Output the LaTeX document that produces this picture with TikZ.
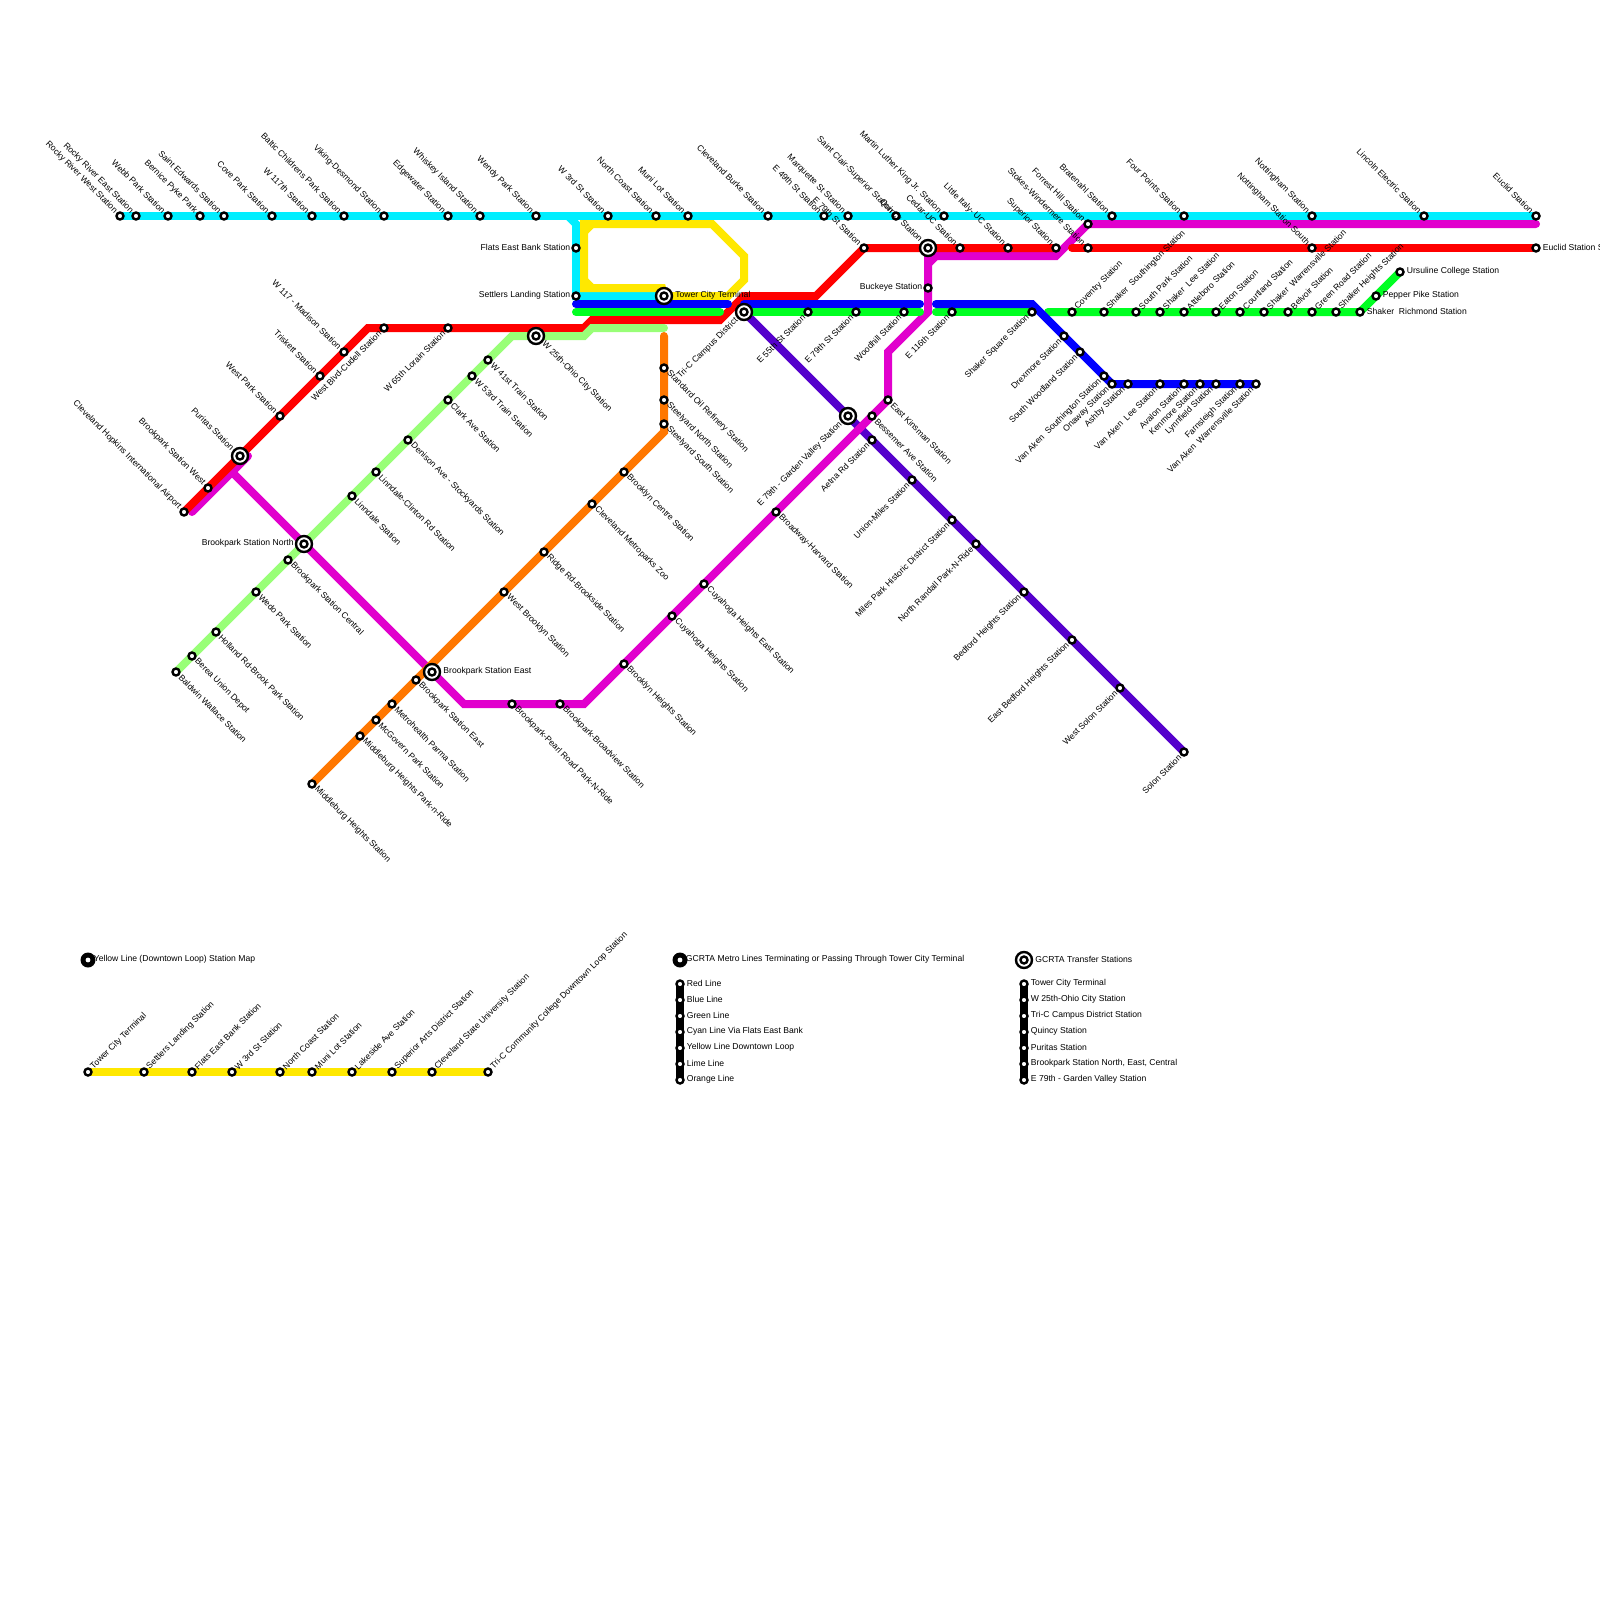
\documentclass[tikz,border=0pt]{standalone}
\usepackage{fontspec}
\setmainfont{Liberation Sans}
\usepackage{xcolor}
\usetikzlibrary{backgrounds}
\definecolor{cyanline}{HTML}{00EEFF}
\definecolor{yellowline}{HTML}{FFE800}
\definecolor{redline}{HTML}{FF0000}
\definecolor{blueline}{HTML}{0000FF}
\definecolor{greenline}{HTML}{00FF22}
\definecolor{limeline}{HTML}{99FF77}
\definecolor{orangeline}{HTML}{FF7700}
\definecolor{magentaline}{HTML}{E100CD}
\definecolor{indigoline}{HTML}{5500CC}

\begin{document}
\begin{tikzpicture}[x=1pt,y=-1pt,
    stn/.style={circle,draw=black,fill=white,line width=2.4pt,minimum size=7pt,inner sep=0pt},
    xfer/.style={circle,draw=black,fill=white,line width=2.4pt,minimum size=16pt,inner sep=0pt,
        path picture={\draw[line width=2.4pt] (path picture bounding box.center) circle (3.5pt);}},
    hub/.style={circle,fill=black,minimum size=15pt,inner sep=0pt,
        path picture={\fill[white] (path picture bounding box.center) circle (2.4pt);}},
    lab/.style={font=\fontsize{8.6}{9}\selectfont,inner sep=1pt,text=black},
    nwl/.style={label={[lab,rotate=-45,anchor=east]135:{#1}}},
    sel/.style={label={[lab,rotate=-45,anchor=west]-45:{#1}}},
    swl/.style={label={[lab,rotate=45,anchor=east]-135:{#1}}},
    nel/.style={label={[lab,rotate=45,anchor=west]45:{#1}}},
    wl/.style={label={[lab,yshift=0.4pt]180:{#1}}},
    el/.style={label={[lab,xshift=1pt,yshift=0.4pt]0:{#1}}},
    hubl/.style={label={[lab,xshift=-3pt,yshift=0.4pt]0:{#1}}},
    ln/.style={line width=8pt,line cap=round},
    cut/.style={line width=8pt,line cap=butt}]

\path[use as bounding box] (0,0) rectangle (1600,1600);

% Cyan
\node[stn,nwl={Rocky River West Station}] (rrwest) at (120,216) {};
\node[stn,nwl={Rocky River East Station}] (rreast) at (136,216) {};
\node[stn,nwl={Webb Park Station}] (webb) at (168,216) {};
\node[stn,nwl={Bernice Pyke Park}] (bernice) at (200,216) {};
\node[stn,nwl={Saint Edwards Station}] (edwards) at (224,216) {};
\node[stn,nwl={Cove Park Station}] (cove) at (272,216) {};
\node[stn,nwl={W 117th Station}] (w117) at (312,216) {};
\node[stn,nwl={Baltic Childrens Park Station}] (baltic) at (344,216) {};
\node[stn,nwl={Viking-Desmond Station}] (viking) at (384,216) {};
\node[stn,nwl={Edgewater Station}] (edgewater) at (448,216) {};
\node[stn,nwl={Whiskey Island Station}] (whiskey) at (480,216) {};
\node[stn,nwl={Wendy Park Station}] (wendy) at (536,216) {};
\node[stn,nwl={W 3rd St Station}] (w3rd) at (608,216) {};
\node[stn,nwl={North Coast Station}] (ncoast) at (656,216) {};
\node[stn,nwl={Muni Lot Station}] (muni) at (688,216) {};
\node[stn,nwl={Cleveland Burke Station}] (burke) at (768,216) {};
\node[stn,nwl={E 49th St Station}] (e49) at (824,216) {};
\node[stn,nwl={Marquette St Station}] (marquette) at (848,216) {};
\node[stn,nwl={Saint Clair-Superior Station}] (stclair) at (896,216) {};
\node[stn,nwl={Martin Luther King Jr. Station}] (mlk) at (944,216) {};
\node[stn,nwl={Bratenahl Station}] (bratenahl) at (1112,216) {};
\node[stn,nwl={Four Points Station}] (fourpts) at (1184,216) {};
\node[stn,nwl={Nottingham Station}] (notts) at (1312,216) {};
\node[stn,nwl={Lincoln Electric Station}] (lincoln) at (1424,216) {};
\node[stn,nwl={Euclid Station}] (euclid) at (1536,216) {};
\node[stn,wl={Flats East Bank Station}] (flats) at (576,248) {};
\node[stn,wl={Settlers Landing Station}] (settlers) at (576,296) {};

% Red
\node[stn,nwl={Cleveland Hopkins International Airport}] (airport) at (184,512) {};
\node[stn,nwl={Brookpark Station West}] (bkwest) at (208,488) {};
\node[stn,nwl={West Park Station}] (wpark) at (280,416) {};
\node[stn,nwl={Triskett Station}] (triskett) at (320,376) {};
\node[stn,nwl={W 117 - Madison Station}] (madison) at (344,352) {};
\node[stn,swl={West Blvd-Cudell Station}] (cudell) at (384,328) {};
\node[stn,swl={W 65th Lorain Station}] (lorain) at (448,328) {};
\node[stn,nwl={E 79th St Station}] (e79red) at (864,248) {};
\node[stn,nwl={Cedar-UC Station}] (cedar) at (960,248) {};
\node[stn,nwl={Little Italy- UC Station}] (italy) at (1008,248) {};
\node[stn,nwl={Superior Station}] (superior) at (1056,248) {};
\node[stn,nwl={Stokes-Windermere Station}] (stokes) at (1088,248) {};
\node[stn,nwl={Nottingham Station South}] (nottsouth) at (1312,248) {};
\node[stn,el={Euclid Station S}] (euclidsouth) at (1536,248) {};

% Green
\node[stn,swl={E 55th St Station}] (e55) at (808,312) {};
\node[stn,swl={E 79th St Station}] (e79grn) at (856,312) {};
\node[stn,swl={Woodhill Station}] (woodhill) at (904,312) {};
\node[stn,swl={E 116th Station}] (e116) at (952,312) {};
\node[stn,swl={Shaker Square Station}] (square) at (1032,312) {};
\node[stn,nel={Coventry Station}] (coventry) at (1072,312) {};
\node[stn,nel={Shaker\ \ Southington Station}] (shsouth) at (1104,312) {};
\node[stn,nel={South Park Station}] (spark) at (1136,312) {};
\node[stn,nel={Shaker\ \ Lee Station}] (shlee) at (1160,312) {};
\node[stn,nel={Attleboro Station}] (attleboro) at (1184,312) {};
\node[stn,nel={Eaton Station}] (eaton) at (1216,312) {};
\node[stn,nel={Courtland Station}] (courtland) at (1240,312) {};
\node[stn,nel={Shaker\ \ Warrensville Station}] (shwarren) at (1264,312) {};
\node[stn,nel={Belvoir Station}] (belvoir) at (1288,312) {};
\node[stn,nel={Green Road Station}] (greenrd) at (1312,312) {};
\node[stn,nel={Shaker Heights Station}] (shheights) at (1336,312) {};
\node[stn,el={Shaker\ \ Richmond Station}] (shrich) at (1360,312) {};
\node[stn,el={Pepper Pike Station}] (pepper) at (1376,296) {};
\node[stn,el={Ursuline College Station}] (ursuline) at (1400,272) {};

% Blue
\node[stn,swl={Drexmore Station}] (drexmore) at (1064,336) {};
\node[stn,swl={South Woodland Station}] (swood) at (1080,352) {};
\node[stn,swl={Van Aken\ \ Southington Station}] (vasouth) at (1104,376) {};
\node[stn,swl={Onaway Station}] (onaway) at (1112,384) {};
\node[stn,swl={Ashby Station}] (ashby) at (1128,384) {};
\node[stn,swl={Van Aken\ \ Lee Station}] (valee) at (1160,384) {};
\node[stn,swl={Avalon Station}] (avalon) at (1184,384) {};
\node[stn,swl={Kenmore Station}] (kenmore) at (1200,384) {};
\node[stn,swl={Lynnfield Station}] (lynnfield) at (1216,384) {};
\node[stn,swl={Farnsleigh Station}] (farnsleigh) at (1240,384) {};
\node[stn,swl={Van Aken\ \ Warrensville Station}] (vawarren) at (1256,384) {};

% Lime
\node[stn,sel={W 41st Train Station}] (w41) at (488,360) {};
\node[stn,sel={W 53rd Train Station}] (w53) at (472,376) {};
\node[stn,sel={Clark Ave Station}] (clark) at (448,400) {};
\node[stn,sel={Denison Ave - Stockyards Station}] (denison) at (408,440) {};
\node[stn,sel={Linndale-Clinton Rd Station}] (clinton) at (376,472) {};
\node[stn,sel={Linndale Station}] (linndale) at (352,496) {};
\node[stn,sel={Brookpark Station Central}] (bkcentral) at (288,560) {};
\node[stn,sel={Wedo Park Station}] (wedo) at (256,592) {};
\node[stn,sel={Holland Rd-Brook Park Station}] (holland) at (216,632) {};
\node[stn,sel={Berea Union Depot}] (berea) at (192,656) {};
\node[stn,sel={Baldwin Wallace Station}] (baldwin) at (176,672) {};

% Orange
\node[stn,sel={Standard Oil Refinery Station}] (stdoil) at (664,368) {};
\node[stn,sel={Steelyard North Station}] (steelnorth) at (664,400) {};
\node[stn,sel={Steelyard South Station}] (steelsouth) at (664,424) {};
\node[stn,sel={Brooklyn Centre Station}] (bkcentre) at (624,472) {};
\node[stn,sel={Cleveland Metroparks Zoo}] (zoo) at (592,504) {};
\node[stn,sel={Ridge Rd-Brookside Station}] (ridge) at (544,552) {};
\node[stn,sel={West Brooklyn Station}] (wbrooklyn) at (504,592) {};
\node[stn,sel={Brookpark Station East}] (bkeastor) at (416,680) {};
\node[stn,sel={Metrohealth Parma Station}] (metro) at (392,704) {};
\node[stn,sel={McGovern Park Station}] (mcgovern) at (376,720) {};
\node[stn,sel={Middleburg Heights Park-n-Ride}] (midpark) at (360,736) {};
\node[stn,sel={Middleburg Heights Station}] (midheights) at (312,784) {};

% Magenta
\node[stn,sel={Brookpark-Pearl Road Park-N-Ride}] (pearl) at (512,704) {};
\node[stn,sel={Brookpark-Broadview Station}] (broadview) at (560,704) {};
\node[stn,sel={Brooklyn Heights Station}] (bkheights) at (624,664) {};
\node[stn,sel={Cuyahoga Heights Station}] (cuyahoga) at (672,616) {};
\node[stn,sel={Cuyahoga Heights East Station}] (cuyeast) at (704,584) {};
\node[stn,sel={Broadway-Harvard Station}] (broadway) at (776,512) {};
\node[stn,sel={Bessemer Ave Station}] (bessemer) at (872,416) {};
\node[stn,sel={East Kinsman Station}] (kinsman) at (888,400) {};
\node[stn,wl={Buckeye Station}] (buckeye) at (928,288) {};
\node[stn,nwl={Forrest Hill Station}] (forrest) at (1088,224) {};

% Indigo
\node[stn,swl={Aetna Rd Station}] (aetna) at (872,440) {};
\node[stn,swl={Union-Miles Station}] (union) at (912,480) {};
\node[stn,swl={Miles Park Historic District Station}] (miles) at (952,520) {};
\node[stn,swl={North Randall Park-N-Ride}] (randall) at (976,544) {};
\node[stn,swl={Bedford Heights Station}] (bedford) at (1024,592) {};
\node[stn,swl={East Bedford Heights Station}] (ebedford) at (1072,640) {};
\node[stn,swl={West Solon Station}] (wsolon) at (1120,688) {};
\node[stn,swl={Solon Station}] (solon) at (1184,752) {};

% Transfers
\node[xfer,nwl={Puritas Station}] (puritas) at (240,456) {};
\node[xfer,wl={Brookpark Station North}] (bknorth) at (304,544) {};
\node[xfer,el={Brookpark Station East}] (bkeast) at (432,672) {};
\node[xfer,sel={W 25th-Ohio City Station}] (ohio) at (536,336) {};
\node[xfer,el={Tower City Terminal}] (tower) at (664,296) {};
\node[xfer,swl={Tri-C Campus District}] (tric) at (744,312) {};
\node[xfer,swl={E 79th - Garden Valley Station}] (garden) at (848,416) {};
\node[xfer,nwl={Quincy Station}] (quincy) at (928,248) {};

% Yellow Line map
\node[hub,hubl={Yellow Line (Downtown Loop) Station Map}] (yhub) at (88,960) {};
\node[stn,nel={Tower City Terminal}] (ytower) at (88,1072) {};
\node[stn,nel={Settlers Landing Station}] (ysettlers) at (144,1072) {};
\node[stn,nel={Flats East Bank Station}] (yflats) at (192,1072) {};
\node[stn,nel={W 3rd St Station}] (yw3rd) at (232,1072) {};
\node[stn,nel={North Coast Station}] (yncoast) at (280,1072) {};
\node[stn,nel={Muni Lot Station}] (ymuni) at (312,1072) {};
\node[stn,nel={Lakeside Ave Station}] (ylake) at (352,1072) {};
\node[stn,nel={Superior Arts District Station}] (yarts) at (392,1072) {};
\node[stn,nel={Cleveland State University Station}] (ycsu) at (432,1072) {};
\node[stn,nel={Tri-C Community College Downtown Loop Station}] (ytric) at (488,1072) {};

% Metro lines key
\node[hub,hubl={GCRTA Metro Lines Terminating or Passing Through Tower City Terminal}] (mhub) at (680,960) {};
\node[stn,el={Red Line}] (kred) at (680,984) {};
\node[stn,el={Blue Line}] (kblue) at (680,1000) {};
\node[stn,el={Green Line}] (kgreen) at (680,1016) {};
\node[stn,el={Cyan Line Via Flats East Bank}] (kcyan) at (680,1032) {};
\node[stn,el={Yellow Line Downtown Loop}] (kyellow) at (680,1048) {};
\node[stn,el={Lime Line}] (klime) at (680,1064) {};
\node[stn,el={Orange Line}] (korange) at (680,1080) {};

% Transfer key
\node[xfer,el={GCRTA Transfer Stations}] (thub) at (1024,960) {};
\node[stn,el={Tower City Terminal}] (ttower) at (1024,984) {};
\node[stn,el={W 25th-Ohio City Station}] (tohio) at (1024,1000) {};
\node[stn,el={Tri-C Campus District Station}] (ttric) at (1024,1016) {};
\node[stn,el={Quincy Station}] (tquincy) at (1024,1032) {};
\node[stn,el={Puritas Station}] (tpuritas) at (1024,1048) {};
\node[stn,el={Brookpark Station North, East, Central}] (tbrook) at (1024,1064) {};
\node[stn,el={E 79th - Garden Valley Station}] (tgarden) at (1024,1080) {};

% Bends
\coordinate (cyanfork) at (568,216);
\coordinate (cyanknee) at (576,224);
\coordinate (ylwa) at (662,288);
\coordinate (ylwb) at (584,288);
\coordinate (ylwc) at (584,224);
\coordinate (ylwd) at (712,224);
\coordinate (ylwe) at (744,256);
\coordinate (ylwf) at (744,280);
\coordinate (ylwg) at (728,296);
\coordinate (ylwtl) at (592,224);
\coordinate (ylwtm) at (584,232);
\coordinate (ylwbl) at (592,288);
\coordinate (ylwbm) at (584,280);
\coordinate (reda) at (368,328);
\coordinate (redb) at (584,328);
\coordinate (redc) at (592,320);
\coordinate (redd) at (720,320);
\coordinate (rede) at (744,296);
\coordinate (redf) at (816,296);
\coordinate (redg) at (1072,248);
\coordinate (bluea) at (576,304);
\coordinate (blueb) at (728,304);
\coordinate (bluec) at (744,304);
\coordinate (blued) at (920,304);
\coordinate (bluee) at (936,304);
\coordinate (bluef) at (1032,304);
\coordinate (greena) at (576,312);
\coordinate (greenb) at (720,312);
\coordinate (greenc) at (920,312);
\coordinate (greend) at (936,312);
\coordinate (greene) at (1048,312);
\coordinate (limea) at (512,336);
\coordinate (limeb) at (584,336);
\coordinate (limec) at (592,328);
\coordinate (limed) at (664,328);
\coordinate (orga) at (664,336);
\coordinate (orgb) at (664,432);
\coordinate (maga) at (192,512);
\coordinate (magb) at (248,456);
\coordinate (magc) at (232,472);
\coordinate (magd) at (464,704);
\coordinate (mage) at (584,704);
\coordinate (magf) at (888,352);
\coordinate (magg) at (928,312);
\coordinate (magh) at (928,256);
\coordinate (magi) at (1056,256);
\coordinate (magj) at (1536,224);
\coordinate (magtl) at (936,256);
\coordinate (magtm) at (928,264);

\begin{pgfonlayer}{background}
\draw[ln,cyanline] (rrwest.center) -- (euclid.center);
\draw[ln,cyanline] (cyanfork) -- (cyanknee) -- (settlers.center) -- (tower.center);
\draw[ln,indigoline] (tric.center) -- (solon.center);
\draw[ln,magentaline] (maga) -- (magb);
\draw[ln,magentaline] (magc) -- (magd) -- (mage) -- (kinsman.center) -- (magf) -- (magg) -- (magh) -- (magi) -- (forrest.center) -- (magj);
\draw[cut,magentaline] (magtl) -- (magtm);
\draw[ln,yellowline,line cap=butt] (tower.center) -- (ylwa) -- (ylwb) -- (ylwc) -- (ylwd) -- (ylwe) -- (ylwf) -- (ylwg) -- (tower.center);
\draw[cut,yellowline] (ylwtl) -- (ylwtm);
\draw[cut,yellowline] (ylwbl) -- (ylwbm);
\draw[ln,redline] (airport.center) -- (reda) -- (redb) -- (redc) -- (redd) -- (rede) -- (redf) -- (e79red.center) -- (superior.center);
\draw[ln,redline] (redg) -- (euclidsouth.center);
\draw[ln,limeline] (baldwin.center) -- (limea) -- (limeb) -- (limec) -- (limed);
\draw[ln,orangeline] (orga) -- (orgb) -- (midheights.center);
\draw[ln,greenline] (greena) -- (greenb);
\draw[ln,greenline] (tric.center) -- (greenc);
\draw[ln,greenline] (greend) -- (square.center);
\draw[ln,greenline] (greene) -- (shrich.center) -- (ursuline.center);
\draw[ln,blueline] (bluea) -- (blueb);
\draw[ln,blueline] (bluec) -- (blued);
\draw[ln,blueline] (bluee) -- (bluef) -- (onaway.center) -- (vawarren.center);
\draw[ln,yellowline] (ytower.center) -- (ytric.center);
\draw[ln,black] (kred.center) -- (korange.center);
\draw[ln,black] (ttower.center) -- (tgarden.center);
\end{pgfonlayer}

\end{tikzpicture}
\end{document}
